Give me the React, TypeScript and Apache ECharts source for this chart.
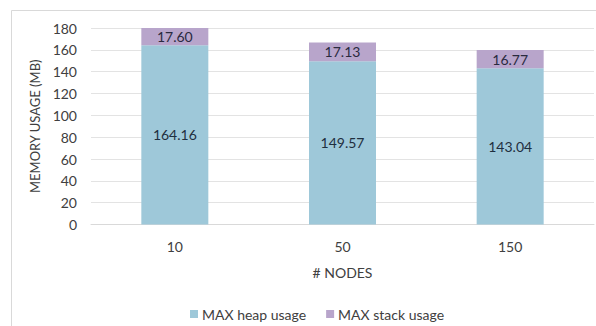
import React, { useEffect, useRef } from "react";
import * as echarts from "echarts";

const nodeCounts = ["10", "50", "150"];
const heapUsage = [164.16, 149.57, 143.04];
const stackUsage = [17.6, 17.13, 16.77];
const yTicks = [0, 20, 40, 60, 80, 100, 120, 140, 160, 180];

const FONT = "Lato, 'Open Sans', sans-serif";

export default function App() {
  const ref = useRef<HTMLDivElement>(null);

  useEffect(() => {
    if (!ref.current) return;
    const chart = echarts.init(ref.current, undefined, { renderer: "svg" });
    chart.setOption({
      animation: false,
      backgroundColor: "#ffffff",
      textStyle: { fontFamily: FONT },
      graphic: [
        {
          type: "rect",
          shape: { x: 11.5, y: 10.5, width: 600, height: 340 },
          style: { fill: "none", stroke: "#d9d9d9", lineWidth: 1 },
          silent: true,
        },
      ],
      grid: { left: 91, right: 2, top: 28, bottom: 101.5, containLabel: false },
      legend: {
        left: 185,
        top: 302,
        itemWidth: 8,
        itemHeight: 8,
        itemGap: 20,
        icon: "rect",
        textStyle: { fontFamily: FONT, fontSize: 14, color: "#404040", padding: [0, 0, 0, -1] },
        data: ["MAX heap usage", "MAX stack usage"],
      },
      xAxis: {
        type: "category",
        data: nodeCounts,
        name: "# NODES",
        nameLocation: "middle",
        nameGap: 41,
        nameTextStyle: { fontFamily: FONT, fontSize: 14, color: "#404040" },
        axisLine: { lineStyle: { color: "#d9d9d9" } },
        axisTick: { show: false },
        axisLabel: { fontFamily: FONT, fontSize: 14, color: "#404040", margin: 15 },
      },
      yAxis: {
        type: "value",
        min: yTicks[0],
        max: yTicks[yTicks.length - 1],
        interval: 20,
        name: "MEMORY USAGE (MB)",
        nameLocation: "middle",
        nameGap: 44,
        nameTextStyle: { fontFamily: FONT, fontSize: 13, color: "#404040" },
        axisLine: { show: false },
        axisTick: { show: false },
        axisLabel: { fontFamily: FONT, fontSize: 14, color: "#404040", margin: 14 },
        splitLine: { lineStyle: { color: "#e3e3e3", width: 1 } },
      },
      series: [
        {
          name: "MAX heap usage",
          type: "bar",
          stack: "mem",
          data: heapUsage,
          barWidth: 67,
          itemStyle: { color: "#9ec8d9" },
          label: {
            show: true,
            position: "inside",
            formatter: (p: any) => p.value.toFixed(2),
            fontFamily: FONT,
            fontSize: 14,
            color: "#1f2f3f",
          },
        },
        {
          name: "MAX stack usage",
          type: "bar",
          stack: "mem",
          data: stackUsage,
          barWidth: 67,
          itemStyle: { color: "#b8a5cb" },
          label: {
            show: true,
            position: "inside",
            formatter: (p: any) => p.value.toFixed(2),
            fontFamily: FONT,
            fontSize: 14,
            color: "#2a2a3f",
          },
        },
      ],
    });
    return () => chart.dispose();
  }, []);

  return (
    <div
      ref={ref}
      style={{ position: "fixed", left: 0, top: 0, width: 596, height: 326 }}
    />
  );
}
